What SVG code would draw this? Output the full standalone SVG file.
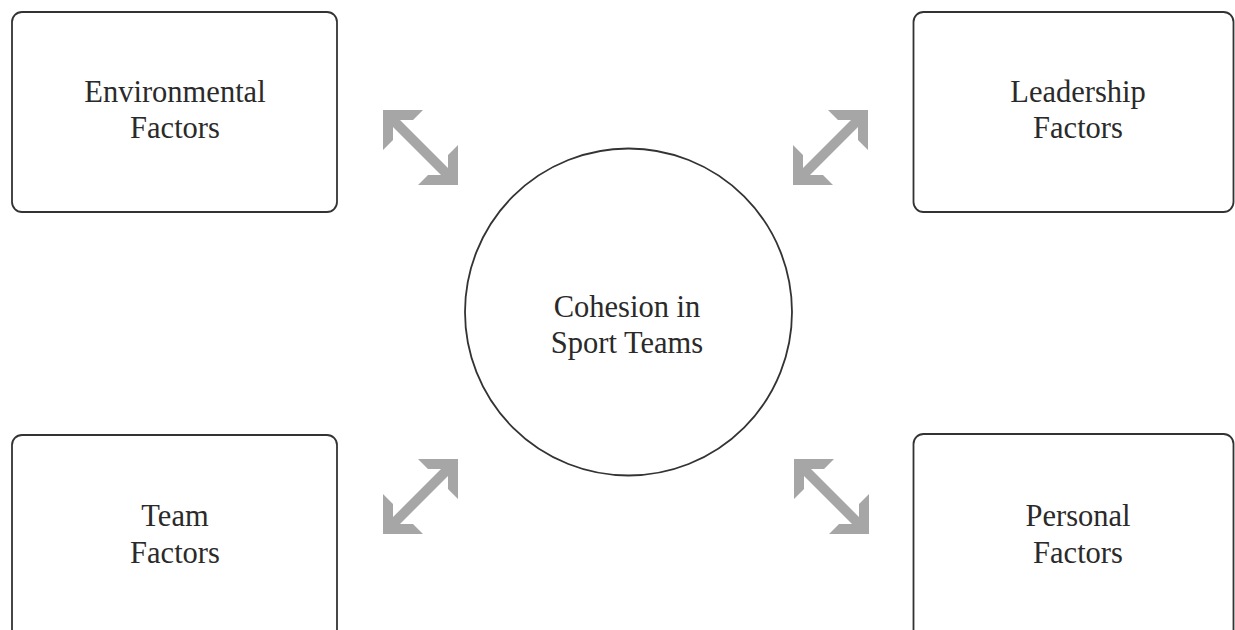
<svg xmlns="http://www.w3.org/2000/svg" xmlns:xlink="http://www.w3.org/1999/xlink" width="1235" height="630" viewBox="0 0 1235 630">
<style>
.box{fill:#fff;stroke:#333;stroke-width:1.8}
.lbl{font-family:"Liberation Serif","Times New Roman",serif;font-size:30.5px;fill:#2a2a2a;text-anchor:middle}
.arr{fill:#a6a6a6}
</style>
<defs>
<polygon id="dblarrow" class="arr" points="0,0 40,0 30,10 17,10 65,58 65,45 75,35 75,75 35,75 45,65 58,65 10,17 10,30 0,40"/>
</defs>
<rect width="1235" height="630" fill="#fff"/>
<g id="connectors">
<use xlink:href="#dblarrow" href="#dblarrow" transform="translate(383,110)"/>
<use xlink:href="#dblarrow" href="#dblarrow" transform="translate(868,110) scale(-1,1)"/>
<use xlink:href="#dblarrow" href="#dblarrow" transform="translate(458,459) scale(-1,1)"/>
<use xlink:href="#dblarrow" href="#dblarrow" transform="translate(794,459)"/>
</g>
<g id="environmental">
<rect class="box" x="12" y="12" width="325" height="200" rx="10"/>
<text class="lbl" x="175" y="102">Environmental</text>
<text class="lbl" x="175" y="138">Factors</text>
</g>
<g id="leadership">
<rect class="box" x="913.5" y="12" width="320" height="200" rx="10"/>
<text class="lbl" x="1078" y="102">Leadership</text>
<text class="lbl" x="1078" y="138">Factors</text>
</g>
<g id="team">
<rect class="box" x="12" y="435" width="325" height="210" rx="10"/>
<text class="lbl" x="175" y="526">Team</text>
<text class="lbl" x="175" y="563">Factors</text>
</g>
<g id="personal">
<rect class="box" x="913.5" y="434" width="320" height="210" rx="10"/>
<text class="lbl" x="1078" y="526">Personal</text>
<text class="lbl" x="1078" y="563">Factors</text>
</g>
<g id="cohesion">
<circle cx="628.5" cy="312" r="163.5" fill="#fff" stroke="#333" stroke-width="1.8"/>
<text class="lbl" x="627" y="317">Cohesion in</text>
<text class="lbl" x="627" y="353">Sport Teams</text>
</g>
</svg>
